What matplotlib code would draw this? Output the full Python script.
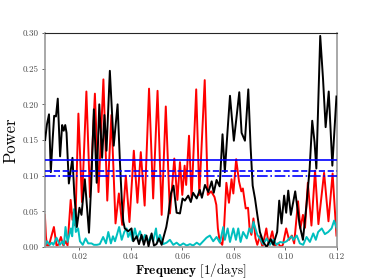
import matplotlib
matplotlib.use("Agg")
import matplotlib.pyplot as plt

plt.rcParams['font.family'] = ['cmr10', 'DejaVu Serif']
plt.rcParams['mathtext.fontset'] = 'cm'
plt.rcParams['axes.formatter.use_mathtext'] = True

black_f = [0.0068, 0.0075, 0.0083, 0.0090, 0.0097, 0.0103, 0.0110, 0.0117, 0.0126, 0.0134,
           0.0140, 0.0146, 0.0151, 0.0160, 0.0174, 0.0181, 0.0191, 0.0201, 0.0209, 0.0222,
           0.0238, 0.0247, 0.0257, 0.0268, 0.0278, 0.0289, 0.0298, 0.0306, 0.0319, 0.0334,
           0.0349, 0.0358, 0.0365, 0.0371, 0.0377, 0.0390, 0.0403, 0.0410, 0.0423, 0.0432,
           0.0442, 0.0451, 0.0461, 0.0469, 0.0481, 0.0490, 0.0500, 0.0509, 0.0520, 0.0526,
           0.0538, 0.0546, 0.0556, 0.0566, 0.0578, 0.0591, 0.0601, 0.0610, 0.0623, 0.0633,
           0.0642, 0.0656, 0.0668, 0.0676, 0.0688, 0.0701, 0.0714, 0.0722, 0.0733, 0.0745,
           0.0756, 0.0765, 0.0775, 0.0785, 0.0800, 0.0811, 0.0821, 0.0830, 0.0843, 0.0856,
           0.0865, 0.0873, 0.0882, 0.0891, 0.0901, 0.0914, 0.0927, 0.0943, 0.0953, 0.0968,
           0.0976, 0.0985, 0.0995, 0.1003, 0.1011, 0.1021, 0.1038, 0.1055, 0.1068, 0.1082,
           0.1094, 0.1104, 0.1113, 0.1120, 0.1135, 0.1146, 0.1156, 0.1168, 0.1182, 0.1198]
black_p = [0.150, 0.172, 0.186, 0.105, 0.150, 0.184, 0.183, 0.208, 0.127, 0.171,
           0.163, 0.171, 0.160, 0.089, 0.125, 0.075, 0.028, 0.055, 0.045, 0.095,
           0.020, 0.090, 0.193, 0.090, 0.200, 0.125, 0.185, 0.135, 0.247, 0.142,
           0.200, 0.120, 0.068, 0.036, 0.026, 0.022, 0.026, 0.008, 0.015, 0.004,
           0.017, 0.003, 0.016, 0.001, 0.019, 0.002, 0.004, 0.012, 0.003, 0.012,
           0.028, 0.045, 0.075, 0.086, 0.048, 0.047, 0.068, 0.065, 0.072, 0.063,
           0.076, 0.068, 0.080, 0.069, 0.087, 0.077, 0.092, 0.076, 0.094, 0.085,
           0.158, 0.105, 0.160, 0.212, 0.149, 0.184, 0.217, 0.160, 0.149, 0.221,
           0.140, 0.086, 0.068, 0.045, 0.021, 0.007, 0.000, 0.011, 0.003, 0.021,
           0.065, 0.033, 0.072, 0.048, 0.079, 0.045, 0.078, 0.031, 0.010, 0.060,
           0.110, 0.177, 0.147, 0.110, 0.296, 0.235, 0.168, 0.218, 0.114, 0.211]

red_f = [0.0067, 0.0071, 0.0075, 0.0083, 0.0090, 0.0102, 0.0112, 0.0119, 0.0129, 0.0139,
         0.0148, 0.0155, 0.0167, 0.0174, 0.0180, 0.0185, 0.0197, 0.0211, 0.0228, 0.0242,
         0.0261, 0.0275, 0.0294, 0.0309, 0.0325, 0.0341, 0.0354, 0.0367, 0.0381, 0.0395,
         0.0412, 0.0426, 0.0439, 0.0454, 0.0471, 0.0487, 0.0504, 0.0520, 0.0536, 0.0552,
         0.0569, 0.0581, 0.0591, 0.0600, 0.0609, 0.0615, 0.0626, 0.0636, 0.0654, 0.0666,
         0.0687, 0.0699, 0.0712, 0.0725, 0.0732, 0.0738, 0.0745, 0.0755, 0.0761, 0.0771,
         0.0781, 0.0791, 0.0798, 0.0809, 0.0820, 0.0829, 0.0835, 0.0846, 0.0855, 0.0861,
         0.0868, 0.0876, 0.0884, 0.0891, 0.0901, 0.0911, 0.0926, 0.0935, 0.0949, 0.0959,
         0.0971, 0.0983, 0.0990, 0.1003, 0.1014, 0.1025, 0.1034, 0.1049, 0.1058, 0.1068,
         0.1076, 0.1087, 0.1101, 0.1115, 0.1128, 0.1150, 0.1167, 0.1183, 0.1198]
red_p = [0.045, 0.015, 0.002, 0.002, 0.012, 0.028, 0.002, 0.003, 0.014, 0.002,
         0.008, 0.002, 0.066, 0.038, 0.050, 0.030, 0.187, 0.063, 0.218, 0.070,
         0.215, 0.077, 0.235, 0.065, 0.185, 0.033, 0.075, 0.031, 0.100, 0.035,
         0.135, 0.062, 0.133, 0.058, 0.222, 0.068, 0.219, 0.045, 0.197, 0.047,
         0.124, 0.066, 0.119, 0.073, 0.114, 0.087, 0.156, 0.068, 0.221, 0.073,
         0.234, 0.073, 0.078, 0.070, 0.059, 0.026, 0.008, 0.003, 0.020, 0.090,
         0.062, 0.095, 0.075, 0.123, 0.092, 0.078, 0.082, 0.054, 0.055, 0.026,
         0.017, 0.040, 0.012, 0.003, 0.015, 0.000, 0.026, 0.003, 0.022, 0.002,
         0.005, 0.000, 0.003, 0.026, 0.010, 0.016, 0.005, 0.064, 0.026, 0.045,
         0.027, 0.090, 0.030, 0.107, 0.032, 0.104, 0.036, 0.103, 0.016]

cyan_f = [0.0069, 0.0075, 0.0080, 0.0086, 0.0094, 0.0100, 0.0112, 0.0125, 0.0135, 0.0141,
          0.0147, 0.0155, 0.0168, 0.0173, 0.0180, 0.0187, 0.0196, 0.0203, 0.0214, 0.0225,
          0.0235, 0.0248, 0.0257, 0.0269, 0.0280, 0.0293, 0.0304, 0.0313, 0.0323, 0.0331,
          0.0339, 0.0348, 0.0355, 0.0365, 0.0375, 0.0384, 0.0390, 0.0399, 0.0407, 0.0416,
          0.0425, 0.0436, 0.0446, 0.0455, 0.0468, 0.0478, 0.0487, 0.0498, 0.0504, 0.0513,
          0.0526, 0.0539, 0.0552, 0.0565, 0.0578, 0.0591, 0.0604, 0.0617, 0.0630, 0.0642,
          0.0656, 0.0668, 0.0681, 0.0694, 0.0707, 0.0720, 0.0733, 0.0746, 0.0759, 0.0765,
          0.0776, 0.0785, 0.0798, 0.0808, 0.0817, 0.0826, 0.0836, 0.0850, 0.0860, 0.0869,
          0.0876, 0.0891, 0.0901, 0.0914, 0.0927, 0.0940, 0.0953, 0.0966, 0.0979, 0.0992,
          0.1005, 0.1015, 0.1024, 0.1031, 0.1044, 0.1056, 0.1069, 0.1082, 0.1095, 0.1108,
          0.1118, 0.1127, 0.1141, 0.1153, 0.1166, 0.1179, 0.1189, 0.1199]
cyan_p = [0.003, 0.008, 0.006, 0.003, 0.006, 0.003, 0.013, 0.003, 0.008, 0.003,
          0.028, 0.007, 0.026, 0.015, 0.053, 0.021, 0.026, 0.008, 0.003, 0.012,
          0.005, 0.005, 0.003, 0.003, 0.004, 0.014, 0.005, 0.021, 0.005, 0.015,
          0.008, 0.019, 0.028, 0.010, 0.021, 0.026, 0.014, 0.021, 0.009, 0.026,
          0.012, 0.022, 0.009, 0.017, 0.007, 0.016, 0.008, 0.026, 0.007, 0.017,
          0.004, 0.006, 0.010, 0.003, 0.006, 0.002, 0.005, 0.002, 0.004, 0.002,
          0.006, 0.003, 0.008, 0.013, 0.016, 0.008, 0.014, 0.006, 0.028, 0.010,
          0.026, 0.007, 0.026, 0.010, 0.026, 0.007, 0.021, 0.012, 0.026, 0.020,
          0.035, 0.017, 0.012, 0.004, 0.012, 0.003, 0.010, 0.003, 0.007, 0.006,
          0.008, 0.012, 0.015, 0.010, 0.016, 0.005, 0.003, 0.014, 0.007, 0.019,
          0.010, 0.021, 0.026, 0.018, 0.021, 0.026, 0.037, 0.026]

levels = [0.122, 0.107, 0.100]
level_styles = ['-', '--', '-.']

xticks = [0.02, 0.04, 0.06, 0.08, 0.10, 0.12]
yticks = [0.00, 0.05, 0.10, 0.15, 0.20, 0.25, 0.30]

fig = plt.figure(figsize=(3.74, 2.80), dpi=100)
ax = fig.add_axes([0.120, 0.118, 0.781, 0.764])

ax.plot(black_f, black_p, color='k', lw=1.4, zorder=3)
ax.plot(red_f, red_p, color='r', lw=1.4, zorder=2)
ax.plot(cyan_f, cyan_p, color='c', lw=1.4, zorder=2)
for lev, ls in zip(levels, level_styles):
    ax.axhline(lev, color='b', ls=ls, lw=1.2, zorder=4)

ax.set_xlim(0.0067, 0.12)
ax.set_ylim(0.0, 0.30)
ax.set_xticks(xticks)
ax.set_xticklabels([f"{t:.2f}" for t in xticks])
ax.set_yticks(yticks)
ax.set_yticklabels([f"{t:.2f}" for t in yticks])
ax.tick_params(labelsize=6.5, length=2.5, width=0.6, pad=2, colors='0.3')
ax.tick_params(axis='x', pad=1.5)

for side in ['left', 'right', 'bottom']:
    ax.spines[side].set_color('0.6')
    ax.spines[side].set_linewidth(1.2)
ax.spines['top'].set_color('0.15')
ax.spines['top'].set_linewidth(0.8)

ax.set_ylabel('Power', fontsize=12, labelpad=3)
ax.set_xlabel(r'$\mathbf{Frequency}\ [1/\mathrm{days}]$', fontsize=9.5, labelpad=0.5)

fig.savefig('out.png', dpi=100)
